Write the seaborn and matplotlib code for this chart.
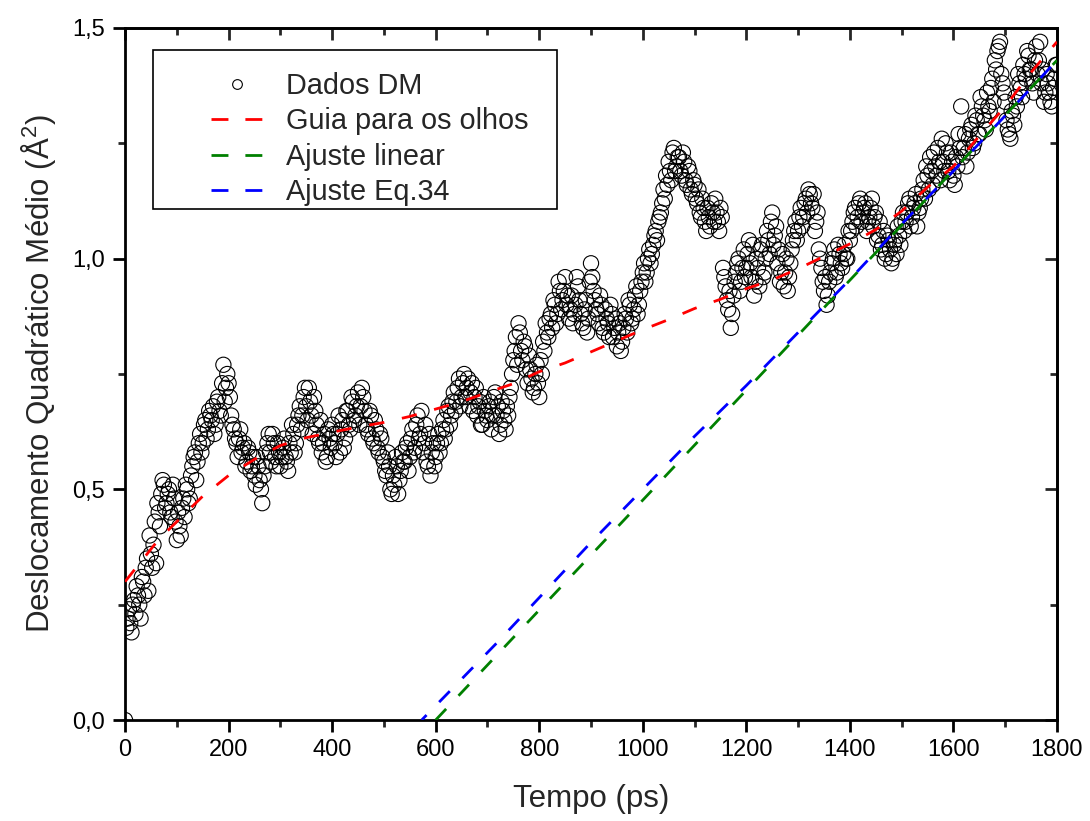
import numpy as np
import matplotlib
matplotlib.use("Agg")
import matplotlib.pyplot as plt
from matplotlib.ticker import FuncFormatter, MultipleLocator
from matplotlib.lines import Line2D
from matplotlib.legend_handler import HandlerLine2D
import seaborn as sns

# ---------------- data ----------------
time_a = np.arange(0, 1801, 5)
msd_a = [0.00, 0.22, 0.21, 0.25, 0.23, 0.27, 0.22, 0.30, 0.33, 0.28, 0.36, 0.38, 0.34, 0.45, 0.49, 0.51, 0.47, 0.50, 0.44, 0.48,
         0.39, 0.42, 0.46, 0.44, 0.50, 0.48, 0.55, 0.58, 0.56, 0.62, 0.60, 0.65, 0.63, 0.66, 0.68, 0.64, 0.70, 0.66, 0.77, 0.72,
         0.73, 0.66, 0.63, 0.60, 0.61, 0.58, 0.60, 0.56, 0.58, 0.55, 0.53, 0.57, 0.52, 0.47, 0.55, 0.60, 0.58, 0.62, 0.57, 0.60,
         0.55, 0.59, 0.57, 0.54, 0.58, 0.62, 0.60, 0.66, 0.63, 0.70, 0.68, 0.72, 0.66, 0.70, 0.64, 0.60, 0.58, 0.62, 0.57, 0.61,
         0.64, 0.60, 0.62, 0.58, 0.65, 0.61, 0.67, 0.63, 0.69, 0.66, 0.71, 0.68, 0.70, 0.64, 0.62, 0.66, 0.60, 0.63, 0.58, 0.61,
         0.56, 0.53, 0.55, 0.49, 0.51, 0.55, 0.52, 0.58, 0.56, 0.60, 0.57, 0.63, 0.59, 0.66, 0.62, 0.58, 0.64, 0.55, 0.53, 0.60,
         0.57, 0.62, 0.60, 0.65, 0.63, 0.68, 0.66, 0.71, 0.69, 0.74, 0.70, 0.75, 0.72, 0.68, 0.73, 0.70, 0.66, 0.69, 0.64, 0.67,
         0.65, 0.69, 0.66, 0.71, 0.68, 0.64, 0.67, 0.63, 0.66, 0.72, 0.78, 0.83, 0.86, 0.80, 0.82, 0.76, 0.79, 0.74, 0.72, 0.77,
         0.70, 0.75, 0.80, 0.84, 0.87, 0.85, 0.90, 0.88, 0.93, 0.91, 0.96, 0.92, 0.89, 0.86, 0.90, 0.94, 0.88, 0.85, 0.91, 0.87,
         0.99, 0.93, 0.89, 0.86, 0.90, 0.84, 0.87, 0.83, 0.88, 0.85, 0.81, 0.86, 0.82, 0.88, 0.84, 0.90, 0.87, 0.92, 0.88, 0.93,
         0.97, 0.95, 1.00, 0.99, 1.03, 1.06, 1.08, 1.10, 1.15, 1.18, 1.21, 1.17, 1.24, 1.20, 1.22, 1.18, 1.21, 1.16, 1.19, 1.14,
         1.16, 1.12, 1.10, 1.13, 1.08, 1.11, 1.07, 1.10, 1.13, 1.08, 1.11, 0.98, 0.94, 0.89, 0.85, 0.92, 0.97, 1.00, 0.95, 1.02,
         0.98, 1.04, 0.96, 0.92, 1.00, 0.94, 1.03, 0.97, 1.06, 1.01, 1.10, 1.05, 0.99, 0.95, 1.01, 0.97, 0.93, 0.99, 1.04, 1.08,
         1.06, 1.11, 1.09, 1.13, 1.15, 1.12, 1.14, 1.08, 1.02, 0.98, 0.93, 0.90, 0.95, 0.99, 1.02, 0.97, 1.01, 0.98, 1.03, 1.00,
         1.04, 1.08, 1.11, 1.09, 1.13, 1.10, 1.12, 1.08, 1.11, 1.07, 1.10, 1.05, 1.02, 1.06, 1.01, 1.04, 0.99, 1.03, 1.01, 1.05,
         1.08, 1.06, 1.10, 1.13, 1.09, 1.12, 1.07, 1.11, 1.15, 1.13, 1.18, 1.22, 1.16, 1.20, 1.24, 1.17, 1.21, 1.25, 1.19, 1.23,
         1.18, 1.22, 1.27, 1.33, 1.24, 1.20, 1.26, 1.29, 1.25, 1.30, 1.27, 1.33, 1.30, 1.36, 1.32, 1.39, 1.43, 1.45, 1.47, 1.38,
         1.34, 1.28, 1.26, 1.31, 1.35, 1.40, 1.37, 1.42, 1.39, 1.44, 1.41, 1.36, 1.46, 1.43, 1.38, 1.34, 1.40, 1.36, 1.33, 1.39,
         1.42]

time_b = np.arange(2.5, 1800, 5)
msd_b = [0.20, 0.24, 0.19, 0.26, 0.29, 0.25, 0.31, 0.27, 0.35, 0.40, 0.33, 0.43, 0.47, 0.42, 0.52, 0.46, 0.49, 0.45, 0.51, 0.43,
         0.45, 0.40, 0.48, 0.51, 0.47, 0.53, 0.57, 0.52, 0.60, 0.58, 0.64, 0.61, 0.67, 0.65, 0.62, 0.69, 0.67, 0.73, 0.69, 0.75,
         0.70, 0.64, 0.61, 0.57, 0.63, 0.59, 0.55, 0.59, 0.54, 0.57, 0.51, 0.55, 0.50, 0.53, 0.58, 0.62, 0.56, 0.60, 0.55, 0.58,
         0.57, 0.61, 0.56, 0.60, 0.64, 0.58, 0.64, 0.68, 0.66, 0.72, 0.65, 0.69, 0.62, 0.67, 0.61, 0.65, 0.60, 0.56, 0.63, 0.59,
         0.62, 0.57, 0.66, 0.63, 0.59, 0.67, 0.64, 0.70, 0.65, 0.68, 0.64, 0.72, 0.67, 0.63, 0.67, 0.61, 0.65, 0.59, 0.62, 0.57,
         0.54, 0.58, 0.50, 0.53, 0.57, 0.49, 0.54, 0.56, 0.59, 0.54, 0.61, 0.58, 0.64, 0.61, 0.67, 0.60, 0.56, 0.62, 0.58, 0.55,
         0.60, 0.58, 0.63, 0.61, 0.67, 0.64, 0.69, 0.67, 0.72, 0.68, 0.73, 0.70, 0.74, 0.71, 0.67, 0.72, 0.68, 0.64, 0.70, 0.66,
         0.68, 0.63, 0.70, 0.66, 0.62, 0.69, 0.65, 0.68, 0.70, 0.75, 0.80, 0.77, 0.84, 0.78, 0.81, 0.73, 0.76, 0.71, 0.75, 0.73,
         0.78, 0.82, 0.86, 0.83, 0.88, 0.91, 0.86, 0.95, 0.89, 0.93, 0.90, 0.87, 0.92, 0.88, 0.96, 0.91, 0.86, 0.89, 0.84, 0.95,
         0.96, 0.91, 0.88, 0.92, 0.85, 0.89, 0.86, 0.90, 0.83, 0.87, 0.84, 0.80, 0.85, 0.87, 0.91, 0.86, 0.89, 0.94, 0.90, 0.95,
         0.99, 0.97, 1.02, 1.01, 1.05, 1.04, 1.09, 1.12, 1.13, 1.16, 1.19, 1.23, 1.19, 1.22, 1.19, 1.23, 1.17, 1.20, 1.15, 1.17,
         1.13, 1.15, 1.09, 1.11, 1.06, 1.09, 1.12, 1.08, 1.10, 1.06, 1.09, 0.96, 0.91, 0.93, 0.88, 0.95, 0.99, 0.93, 0.98, 0.96,
         1.01, 0.99, 1.03, 0.95, 0.98, 1.02, 0.96, 1.00, 1.04, 1.08, 1.03, 1.07, 1.02, 0.97, 0.94, 1.00, 0.96, 1.02, 1.06, 1.04,
         1.09, 1.07, 1.12, 1.10, 1.14, 1.11, 1.06, 1.10, 1.00, 0.95, 0.96, 0.92, 0.97, 1.00, 0.96, 1.03, 0.99, 1.01, 1.00, 1.06,
         1.06, 1.10, 1.07, 1.12, 1.08, 1.11, 1.06, 1.09, 1.13, 1.09, 1.04, 1.08, 1.03, 1.00, 1.05, 1.02, 1.00, 1.04, 1.07, 1.03,
         1.10, 1.08, 1.12, 1.07, 1.11, 1.14, 1.10, 1.13, 1.17, 1.20, 1.15, 1.19, 1.23, 1.18, 1.21, 1.26, 1.19, 1.23, 1.17, 1.21,
         1.16, 1.20, 1.24, 1.22, 1.27, 1.23, 1.28, 1.24, 1.31, 1.27, 1.35, 1.31, 1.28, 1.33, 1.37, 1.34, 1.41, 1.46, 1.40, 1.36,
         1.30, 1.27, 1.32, 1.29, 1.33, 1.38, 1.35, 1.40, 1.45, 1.41, 1.38, 1.43, 1.40, 1.47, 1.41, 1.36, 1.38, 1.34, 1.37, 1.42]

guide_t = [0, 64, 100, 150, 200, 250, 300, 350, 400, 450, 500, 550, 600, 650, 700, 750, 800, 850, 900,
           950, 1000, 1050, 1100, 1150, 1200, 1250, 1300, 1350, 1400, 1450, 1500, 1550, 1600, 1650, 1700, 1750, 1800]
guide_v = [0.30, 0.39, 0.43, 0.485, 0.53, 0.565, 0.595, 0.612, 0.624, 0.635, 0.645, 0.658, 0.674, 0.690, 0.710, 0.729, 0.755, 0.774, 0.798,
           0.822, 0.846, 0.868, 0.892, 0.912, 0.935, 0.954, 0.978, 1.005, 1.032, 1.063, 1.103, 1.155, 1.200, 1.266, 1.330, 1.404, 1.470]

lin_t = [600, 1800]
lin_v = [0.0, 1.43]

eq34_t = [573, 718, 900, 1000, 1100, 1200, 1300, 1400, 1500, 1600, 1700, 1800]
eq34_v = [0.0, 0.167, 0.385, 0.50, 0.615, 0.725, 0.84, 0.955, 1.075, 1.19, 1.31, 1.43]

labels = ["Dados DM", "Guia para os olhos", "Ajuste linear", "Ajuste Eq.34"]
x_ticks = [0, 200, 400, 600, 800, 1000, 1200, 1400, 1600, 1800]
y_ticks = [0.0, 0.5, 1.0, 1.5]

time_all = np.concatenate([time_a, time_b])
msd_all = np.concatenate([np.array(msd_a), np.array(msd_b)])

# ---------------- style ----------------
sns.set_style("ticks")
plt.rcParams["font.family"] = ["Liberation Sans", "DejaVu Sans"]
plt.rcParams["mathtext.default"] = "regular"
plt.rcParams["axes.linewidth"] = 2.0

fig = plt.figure(figsize=(10.9, 8.21), dpi=100)
ax = fig.add_axes([0.1147, 0.123, 0.9697 - 0.1147, 0.9659 - 0.123])

dash = (0, (5.5, 6.5))
sns.scatterplot(x=time_all, y=msd_all, ax=ax, marker="o", s=120, facecolors="none",
                edgecolor="black", linewidth=0.8, zorder=2, legend=False)
sns.lineplot(x=guide_t, y=guide_v, ax=ax, color="#ff0000", linewidth=2.0, linestyle=dash,
             sort=False, estimator=None, zorder=3, legend=False)
sns.lineplot(x=lin_t, y=lin_v, ax=ax, color="#008000", linewidth=2.0, linestyle=dash,
             sort=False, estimator=None, zorder=3, legend=False)
sns.lineplot(x=eq34_t, y=eq34_v, ax=ax, color="#0000ff", linewidth=2.0, linestyle=(3, (5.5, 6.5)),
             sort=False, estimator=None, zorder=4, legend=False)

ax.set_xlim(0, 1800)
ax.set_ylim(0, 1.5)
ax.set_xticks(x_ticks)
ax.set_yticks(y_ticks)
ax.xaxis.set_minor_locator(MultipleLocator(100))
ax.yaxis.set_minor_locator(MultipleLocator(0.25))
ax.yaxis.set_major_formatter(FuncFormatter(lambda v, p: f"{v:.1f}".replace(".", ",")))
ax.tick_params(which="major", direction="out", length=8.5, width=2.0, labelsize=17, pad=5, colors="black")
ax.tick_params(which="minor", direction="out", length=5, width=2.0)
ax.tick_params(axis="y", which="major", pad=6)
for s in ax.spines.values():
    s.set_visible(True)
    s.set_linewidth(2.0)
    s.set_color("black")

top = ax.secondary_xaxis("top")
top.set_xticks(x_ticks)
top.xaxis.set_minor_locator(MultipleLocator(100))
top.tick_params(which="major", direction="in", length=8.5, width=2.0, labeltop=False)
top.tick_params(which="minor", direction="in", length=5, width=2.0)
right = ax.secondary_yaxis("right")
right.set_yticks(y_ticks)
right.yaxis.set_minor_locator(MultipleLocator(0.25))
right.tick_params(which="major", direction="in", length=8.5, width=2.0, labelright=False)
right.tick_params(which="minor", direction="in", length=5, width=2.0)

ax.set_xlabel("Tempo (ps)", fontsize=22.5, labelpad=17)
ax.set_ylabel("Deslocamento Quadrático Médio (Å$^2$)", fontsize=22.5, labelpad=10)

leg_dash = (0, (6.1, 6.1))
handles = [
    Line2D([], [], linestyle="none", marker="o", markersize=7, markerfacecolor="none",
           markeredgecolor="black", markeredgewidth=0.8),
    Line2D([], [], color="#ff0000", linewidth=2.0, linestyle=leg_dash),
    Line2D([], [], color="#008000", linewidth=2.0, linestyle=leg_dash),
    Line2D([], [], color="#0000ff", linewidth=2.0, linestyle=leg_dash),
]
hm = {h: HandlerLine2D(xpad=1.9) for h in handles}
leg = ax.legend(handles=handles, labels=labels, loc="upper left",
                bbox_to_anchor=(0.030, 0.968, 0.4335, 0.0), mode="expand",
                fontsize=20.8, frameon=True, fancybox=False, shadow=False, framealpha=1,
                edgecolor="black", borderpad=0.1, handlelength=3.72, handletextpad=0.8,
                labelspacing=0.25, borderaxespad=0, handler_map=hm,
                title=" ", title_fontsize=9)
leg.get_frame().set_linewidth(1.2)

fig.savefig("out.png", dpi=100)
